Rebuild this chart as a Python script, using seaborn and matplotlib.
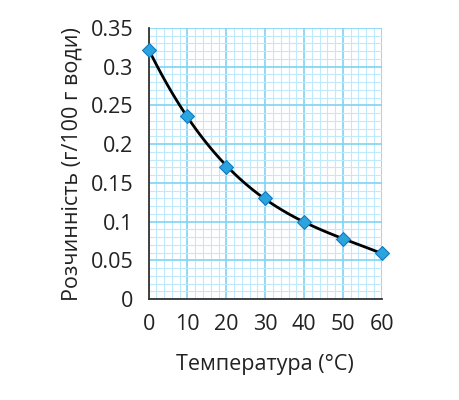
import numpy as np
import pandas as pd
import matplotlib.pyplot as plt
import seaborn as sns
from matplotlib.ticker import MultipleLocator

# data
temperature = [0, 10, 20, 30, 40, 50, 60]
solubility = [0.322, 0.237, 0.170, 0.130, 0.100, 0.078, 0.059]

df = pd.DataFrame({"t": temperature, "s": solubility})

sns.set_style("white")
plt.rcParams["font.family"] = ["Open Sans", "DejaVu Sans"]
plt.rcParams.update({
    "xtick.labelsize": 15.5,
    "ytick.labelsize": 15.5,
    "axes.labelsize": 15.5,
})

fig, ax = plt.subplots(figsize=(4.6, 4.0), dpi=100)
fig.subplots_adjust(left=0.323, right=0.830, bottom=0.252, top=0.930)

# smooth fitted curve through the measured points
sns.regplot(data=df, x="t", y="s", order=3, ci=None, scatter=False,
            truncate=True, color="black", line_kws={"lw": 2.0, "zorder": 3}, ax=ax)

sns.scatterplot(data=df, x="t", y="s", marker="D", s=50, color="#2aa4df",
                edgecolor="#1479bd", linewidth=0.8, zorder=4, clip_on=False, ax=ax)

ax.set_xlim(0, 60)
ax.set_ylim(0, 0.35)
ax.xaxis.set_major_locator(MultipleLocator(10))
ax.xaxis.set_minor_locator(MultipleLocator(2))
ax.yaxis.set_minor_locator(MultipleLocator(0.01))
ax.set_yticks(np.arange(0, 0.351, 0.05))
ax.set_yticklabels(["0", "0.05", "0.1", "0.15", "0.2", "0.25", "0.3", "0.35"])

ax.grid(which="minor", color="#bfeafb", lw=0.8)
ax.grid(which="major", color="#80d3f4", lw=1.2)
ax.set_axisbelow(True)

for side in ["top", "right"]:
    ax.spines[side].set_visible(False)
for side in ["left", "bottom"]:
    ax.spines[side].set_color("#333333")
    ax.spines[side].set_linewidth(1.3)

ax.tick_params(which="major", direction="out", length=6, width=1.3,
               color="#333333", labelcolor="#222222", pad=5)
ax.tick_params(which="minor", length=0)

ax.set_xlabel("Температура (°C)", color="#222222", labelpad=13)
ax.set_ylabel("Розчинність (г/100 г води)", color="#222222", labelpad=6)

plt.savefig("out.png", dpi=100)
